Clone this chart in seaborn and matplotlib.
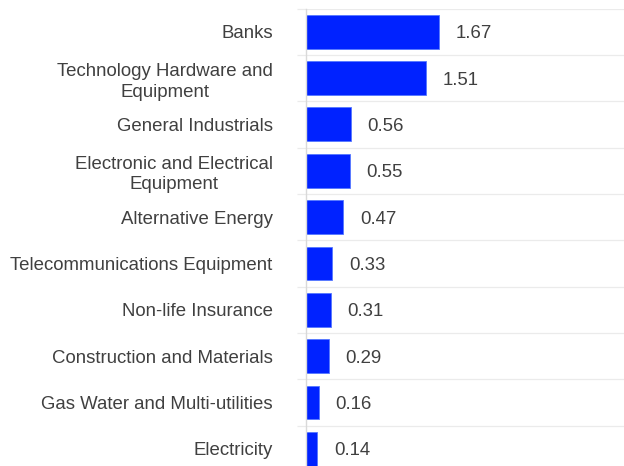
import matplotlib
matplotlib.use("Agg")
import matplotlib.pyplot as plt
import seaborn as sns
import pandas as pd
import numpy as np

categories = [
    "Banks",
    "Technology Hardware and\nEquipment",
    "General Industrials",
    "Electronic and Electrical\nEquipment",
    "Alternative Energy",
    "Telecommunications Equipment",
    "Non-life Insurance",
    "Construction and Materials",
    "Gas Water and Multi-utilities",
    "Electricity",
]
values = [1.67, 1.51, 0.56, 0.55, 0.47, 0.33, 0.31, 0.29, 0.16, 0.14]
value_labels = ["1.67", "1.51", "0.56", "0.55", "0.47", "0.33", "0.31", "0.29", "0.16", "0.14"]

df = pd.DataFrame({"category": categories, "value": values})

sns.set_style("white")
plt.rcParams["font.family"] = ["Liberation Sans", "DejaVu Sans"]

fig = plt.figure(figsize=(6.24, 4.66), dpi=100)
ax = fig.add_axes([306 / 624, -6 / 466, 318 / 624, (472 - 8.5) / 466])

sns.barplot(data=df, x="value", y="category", orient="h", color="#0022FF",
            saturation=1, width=0.73, ax=ax, edgecolor="#5577FF", linewidth=0.6)

ax.set_xlim(0, 4.0)
ax.set_ylim(len(categories) - 0.5, -0.5)
ax.set_xlabel("")
ax.set_ylabel("")
ax.set_xticks([])

# gridlines between categories
bounds = np.arange(len(categories) + 1) - 0.5
ax.set_yticks(bounds, minor=True)
ax.grid(False)
for b in bounds:
    ax.axhline(b, color="#EBEBEB", lw=0.9, zorder=0)
ax.tick_params(axis="y", which="minor", length=6.5, color="#EBEBEB", width=0.9, left=True)
ax.tick_params(axis="y", which="major", length=0, pad=24, labelsize=13.4, labelcolor="#404040")
for lbl in ax.get_yticklabels():
    lbl.set_multialignment("center")
    lbl.set_linespacing(1.28)

for s in ["top", "right", "bottom"]:
    ax.spines[s].set_visible(False)
ax.spines["left"].set_color("#D9D9D9")
ax.spines["left"].set_linewidth(1.0)

texts = ax.bar_label(ax.containers[0], labels=value_labels, padding=12, fontsize=13.4, color="#404040")
for t in texts:
    t.set_va("center_baseline")

fig.savefig("out.png", dpi=100)
